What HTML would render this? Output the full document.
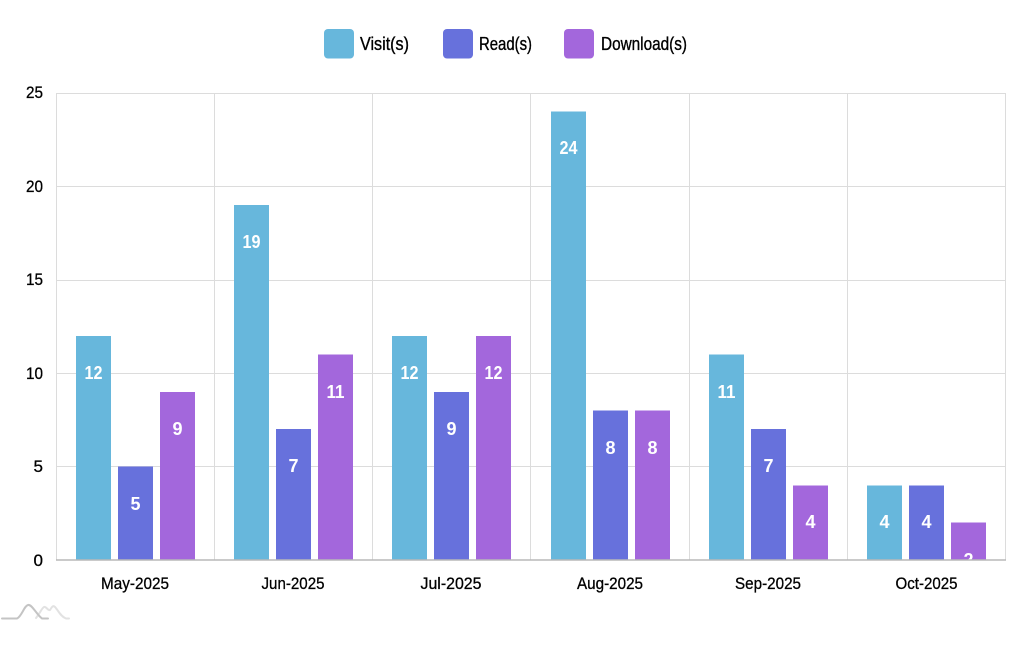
<!DOCTYPE html>
<html>
<head>
<meta charset="utf-8">
<style>
html,body{margin:0;padding:0;background:#fff;}
svg{display:block;}
text{font-family:"Liberation Sans",sans-serif;}
</style>
</head>
<body>
<svg width="1036" height="651" viewBox="0 0 1036 651" xmlns="http://www.w3.org/2000/svg">
<defs>
<clipPath id="plot"><rect x="56" y="80" width="950" height="480"/></clipPath>
</defs>
<rect width="1036" height="651" fill="#fff"/>

<!-- Legend -->
<g stroke="#000" stroke-width="0.35">
<rect x="324" y="29" width="30" height="29.5" rx="4" fill="#67b7dc" stroke="none"/>
<text x="360" y="50" font-size="18" fill="#000" textLength="49" lengthAdjust="spacingAndGlyphs">Visit(s)</text>
<rect x="443" y="29" width="30" height="29.5" rx="4" fill="#6771dc" stroke="none"/>
<text x="479" y="50" font-size="18" fill="#000" textLength="53" lengthAdjust="spacingAndGlyphs">Read(s)</text>
<rect x="564" y="29" width="30" height="29.5" rx="4" fill="#a367dc" stroke="none"/>
<text x="601" y="50" font-size="18" fill="#000" textLength="86" lengthAdjust="spacingAndGlyphs">Download(s)</text>
</g>

<!-- Grid -->
<g stroke="#dcdcdc" stroke-width="1" shape-rendering="crispEdges">
<line x1="56" y1="93.5" x2="1006" y2="93.5"/>
<line x1="56" y1="186.5" x2="1006" y2="186.5"/>
<line x1="56" y1="280.5" x2="1006" y2="280.5"/>
<line x1="56" y1="373.5" x2="1006" y2="373.5"/>
<line x1="56" y1="466.5" x2="1006" y2="466.5"/>
<line x1="56.5" y1="93" x2="56.5" y2="560"/>
<line x1="214.5" y1="93" x2="214.5" y2="560"/>
<line x1="372.5" y1="93" x2="372.5" y2="560"/>
<line x1="530.5" y1="93" x2="530.5" y2="560"/>
<line x1="689.5" y1="93" x2="689.5" y2="560"/>
<line x1="847.5" y1="93" x2="847.5" y2="560"/>
<line x1="1005.5" y1="93" x2="1005.5" y2="560"/>
</g>

<!-- Bars -->
<g shape-rendering="crispEdges">
<rect x="76" y="335.8" width="35" height="224.2" fill="#67b7dc"/>
<rect x="118" y="466.6" width="35" height="93.4" fill="#6771dc"/>
<rect x="160" y="391.9" width="35" height="168.1" fill="#a367dc"/>
<rect x="234" y="205.1" width="35" height="354.9" fill="#67b7dc"/>
<rect x="276" y="429.2" width="35" height="130.8" fill="#6771dc"/>
<rect x="318" y="354.5" width="35" height="205.5" fill="#a367dc"/>
<rect x="392" y="335.8" width="35" height="224.2" fill="#67b7dc"/>
<rect x="434" y="391.9" width="35" height="168.1" fill="#6771dc"/>
<rect x="476" y="335.8" width="35" height="224.2" fill="#a367dc"/>
<rect x="551" y="111.7" width="35" height="448.3" fill="#67b7dc"/>
<rect x="593" y="410.6" width="35" height="149.4" fill="#6771dc"/>
<rect x="635" y="410.6" width="35" height="149.4" fill="#a367dc"/>
<rect x="709" y="354.5" width="35" height="205.5" fill="#67b7dc"/>
<rect x="751" y="429.2" width="35" height="130.8" fill="#6771dc"/>
<rect x="793" y="485.3" width="35" height="74.7" fill="#a367dc"/>
<rect x="867" y="485.3" width="35" height="74.7" fill="#67b7dc"/>
<rect x="909" y="485.3" width="35" height="74.7" fill="#6771dc"/>
<rect x="951" y="522.6" width="35" height="37.4" fill="#a367dc"/>
</g>

<!-- Bar labels -->
<g clip-path="url(#plot)" fill="#fff" font-size="18" font-weight="bold" text-anchor="middle">
<text x="93.5" y="379" textLength="18" lengthAdjust="spacingAndGlyphs">12</text>
<text x="135.5" y="510">5</text>
<text x="177.5" y="435">9</text>
<text x="251.5" y="248" textLength="18" lengthAdjust="spacingAndGlyphs">19</text>
<text x="293.5" y="472">7</text>
<text x="335.5" y="398" textLength="18" lengthAdjust="spacingAndGlyphs">11</text>
<text x="409.5" y="379" textLength="18" lengthAdjust="spacingAndGlyphs">12</text>
<text x="451.5" y="435">9</text>
<text x="493.5" y="379" textLength="18" lengthAdjust="spacingAndGlyphs">12</text>
<text x="568.5" y="154" textLength="18" lengthAdjust="spacingAndGlyphs">24</text>
<text x="610.5" y="454">8</text>
<text x="652.5" y="454">8</text>
<text x="726.5" y="398" textLength="18" lengthAdjust="spacingAndGlyphs">11</text>
<text x="768.5" y="472">7</text>
<text x="810.5" y="528">4</text>
<text x="884.5" y="528">4</text>
<text x="926.5" y="528">4</text>
<text x="968.5" y="566">2</text>
</g>

<!-- Bottom axis -->
<line x1="56" y1="560" x2="1006" y2="560" stroke="#b8b8b8" stroke-width="1.5"/>

<!-- Y labels -->
<g font-size="17" fill="#000" text-anchor="end" stroke="#000" stroke-width="0.3">
<text x="43" y="98" textLength="17" lengthAdjust="spacingAndGlyphs">25</text>
<text x="43" y="192" textLength="17" lengthAdjust="spacingAndGlyphs">20</text>
<text x="43" y="285" textLength="17" lengthAdjust="spacingAndGlyphs">15</text>
<text x="43" y="379" textLength="17" lengthAdjust="spacingAndGlyphs">10</text>
<text x="43" y="472">5</text>
<text x="43" y="566">0</text>
</g>

<!-- X labels -->
<g font-size="17" fill="#000" text-anchor="middle" stroke="#000" stroke-width="0.3">
<text x="135" y="589" textLength="68" lengthAdjust="spacingAndGlyphs">May-2025</text>
<text x="293" y="589" textLength="63" lengthAdjust="spacingAndGlyphs">Jun-2025</text>
<text x="451" y="589" textLength="61" lengthAdjust="spacingAndGlyphs">Jul-2025</text>
<text x="610" y="589" textLength="66" lengthAdjust="spacingAndGlyphs">Aug-2025</text>
<text x="768" y="589" textLength="66" lengthAdjust="spacingAndGlyphs">Sep-2025</text>
<text x="926.5" y="589" textLength="62" lengthAdjust="spacingAndGlyphs">Oct-2025</text>
</g>

<!-- Logo -->
<g fill="none" stroke-width="2" stroke-linecap="round">
<path d="M36,618 C40,613 42,608 44,607 C46,606 48,611 50,610 C52,607 53,605 55,607 C58,610 60,616 66,618.5 L69,618.5" stroke="#e2e2e2"/>
<path d="M2,618.5 L17,618.5 C22,616 24,606 28,605 C32,604 36,614 42,618.5 L48,618.5" stroke="#c4c4c4"/>
</g>
</svg>
</body>
</html>
